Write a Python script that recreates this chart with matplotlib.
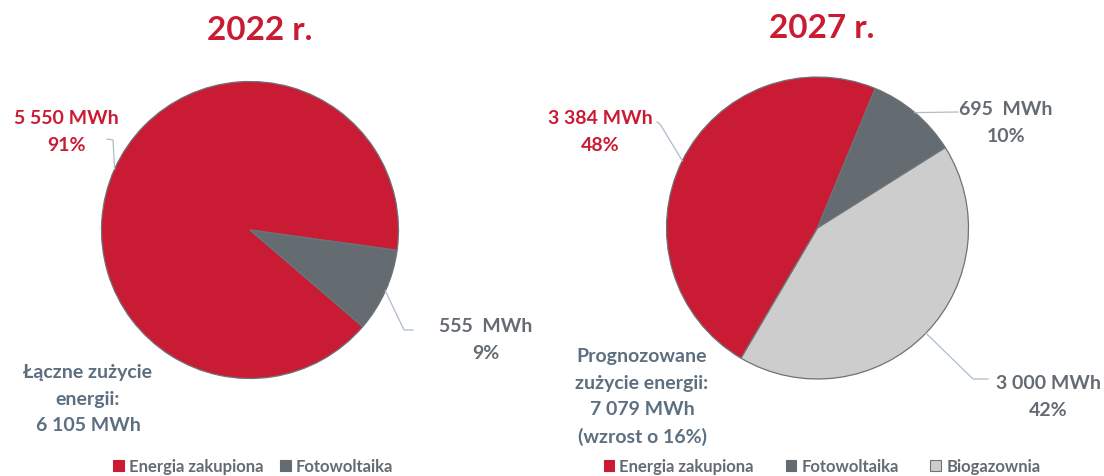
import matplotlib
matplotlib.use("Agg")
import matplotlib.pyplot as plt
import numpy as np
from matplotlib.lines import Line2D
from matplotlib.patches import Patch

plt.rcParams['font.family'] = ['Lato', 'DejaVu Sans']
plt.rcParams['font.weight'] = 'bold'

W, H = 1104, 477

# ---- data ----
years = ["2022 r.", "2027 r."]
cats_2022 = ["Energia zakupiona", "Fotowoltaika"]
vals_2022 = [5550, 555]
pct_2022 = ["91%", "9%"]
cats_2027 = ["Energia zakupiona", "Fotowoltaika", "Biogazownia"]
vals_2027 = [3384, 695, 3000]
pct_2027 = ["48%", "10%", "42%"]
lbl_2022 = ["5 550 MWh", "555  MWh"]
lbl_2027 = ["3 384 MWh", "695  MWh", "3 000 MWh"]
total_2022 = "Łączne zużycie\nenergii:\n6 105 MWh"
total_2027 = "Prognozowane\nzużycie energii:\n7 079 MWh\n(wzrost o 16%)"

RED = "#C91C34"
DGREY = "#646B71"
LGREY = "#CDCDCD"
EDGE = "#6D7378"
TXT_GREY = "#646B72"
TXT_SLATE = "#5C6F80"
LINE = "#AEBCCB"
colors = [RED, DGREY, LGREY]

fig = plt.figure(figsize=(W / 100, H / 100), dpi=100)


def fx(x):
    return x / W


def fy(y):
    return 1 - y / H


def pie_axes(cx, cy, r):
    ax = fig.add_axes([fx(cx - r), fy(cy + r), 2 * r / W, 2 * r / H])
    return ax


def draw_pie(ax, vals, cols, start):
    wedges, _ = ax.pie(vals, colors=cols, startangle=start, counterclock=False,
                       wedgeprops=dict(edgecolor=EDGE, linewidth=0.9))
    ax.set_xlim(-1, 1)
    ax.set_ylim(-1, 1)
    ax.set_aspect('auto')
    ax.axis('off')
    return wedges


def leader(ax, wedge, pts, lw=0.9):
    mid = np.deg2rad((wedge.theta1 + wedge.theta2) / 2)
    x0, y0 = ax.transData.transform((np.cos(mid), np.sin(mid)))
    xs = [x0 / fig.dpi / fig.get_figwidth()] + [fx(p[0]) for p in pts]
    ys = [y0 / fig.dpi / fig.get_figheight()] + [fy(p[1]) for p in pts]
    fig.add_artist(Line2D(xs, ys, color=LINE, lw=lw, transform=fig.transFigure))


# ---- pies ----
ax1 = pie_axes(250, 231, 148.5)
w1 = draw_pie(ax1, vals_2022, colors[:2], 319.4)
ax2 = pie_axes(817.5, 229, 151)
w2 = draw_pie(ax2, vals_2027, colors, 239.6)

fig.canvas.draw()

# titles
fig.text(fx(260), fy(31), years[0], color=RED, fontsize=24, fontweight='bold',
         ha='center', va='center')
fig.text(fx(822), fy(29), years[1], color=RED, fontsize=24, fontweight='bold',
         ha='center', va='center')

FS = 14
LS = 1.65

# left labels
fig.text(fx(66), fy(132), f"{lbl_2022[0]}\n{pct_2022[0]}", color=RED, fontsize=FS,
         ha='center', va='center', linespacing=LS)
leader(ax1, w1[0], [(113, 141), (107, 140)])
fig.text(fx(486), fy(340), f"{lbl_2022[1]}\n{pct_2022[1]}", color=TXT_GREY, fontsize=FS,
         ha='center', va='center', linespacing=LS)
leader(ax1, w1[1], [(404, 331), (413, 331)])
fig.text(fx(88), fy(399), total_2022, color=TXT_SLATE, fontsize=FS,
         ha='center', va='center', linespacing=LS)

# right labels
fig.text(fx(600), fy(132), f"{lbl_2027[0]}\n{pct_2027[0]}", color=RED, fontsize=FS,
         ha='center', va='center', linespacing=LS)
leader(ax2, w2[0], [(660, 125), (657, 123)])
fig.text(fx(1006), fy(123), f"{lbl_2027[1]}\n{pct_2027[1]}", color=TXT_GREY, fontsize=FS,
         ha='center', va='center', linespacing=LS)
leader(ax2, w2[1], [(958, 113)])
fig.text(fx(1048), fy(397), f"{lbl_2027[2]}\n{pct_2027[2]}", color=TXT_GREY, fontsize=FS,
         ha='center', va='center', linespacing=LS)
leader(ax2, w2[2], [(973, 380), (988, 380)])
fig.text(fx(642), fy(397), total_2027, color=TXT_SLATE, fontsize=FS,
         ha='center', va='center', linespacing=LS)

# legends
h1 = [Patch(facecolor=c, edgecolor=EDGE if c == LGREY else c, linewidth=0.8) for c in colors[:2]]
h2 = [Patch(facecolor=c, edgecolor=EDGE if c == LGREY else c, linewidth=0.8) for c in colors]
fig.legend(h1, cats_2022, loc='center', bbox_to_anchor=(fx(253), fy(467)), ncol=2,
           frameon=False, fontsize=12, handlelength=0.65, handleheight=0.65,
           handletextpad=0.3, columnspacing=1.0, labelcolor=TXT_GREY)
fig.legend(h2, cats_2027, loc='center', bbox_to_anchor=(fx(822), fy(467)), ncol=3,
           frameon=False, fontsize=12, handlelength=0.65, handleheight=0.65,
           handletextpad=0.3, columnspacing=1.9, labelcolor=TXT_GREY)

fig.savefig("out.png", dpi=100)
